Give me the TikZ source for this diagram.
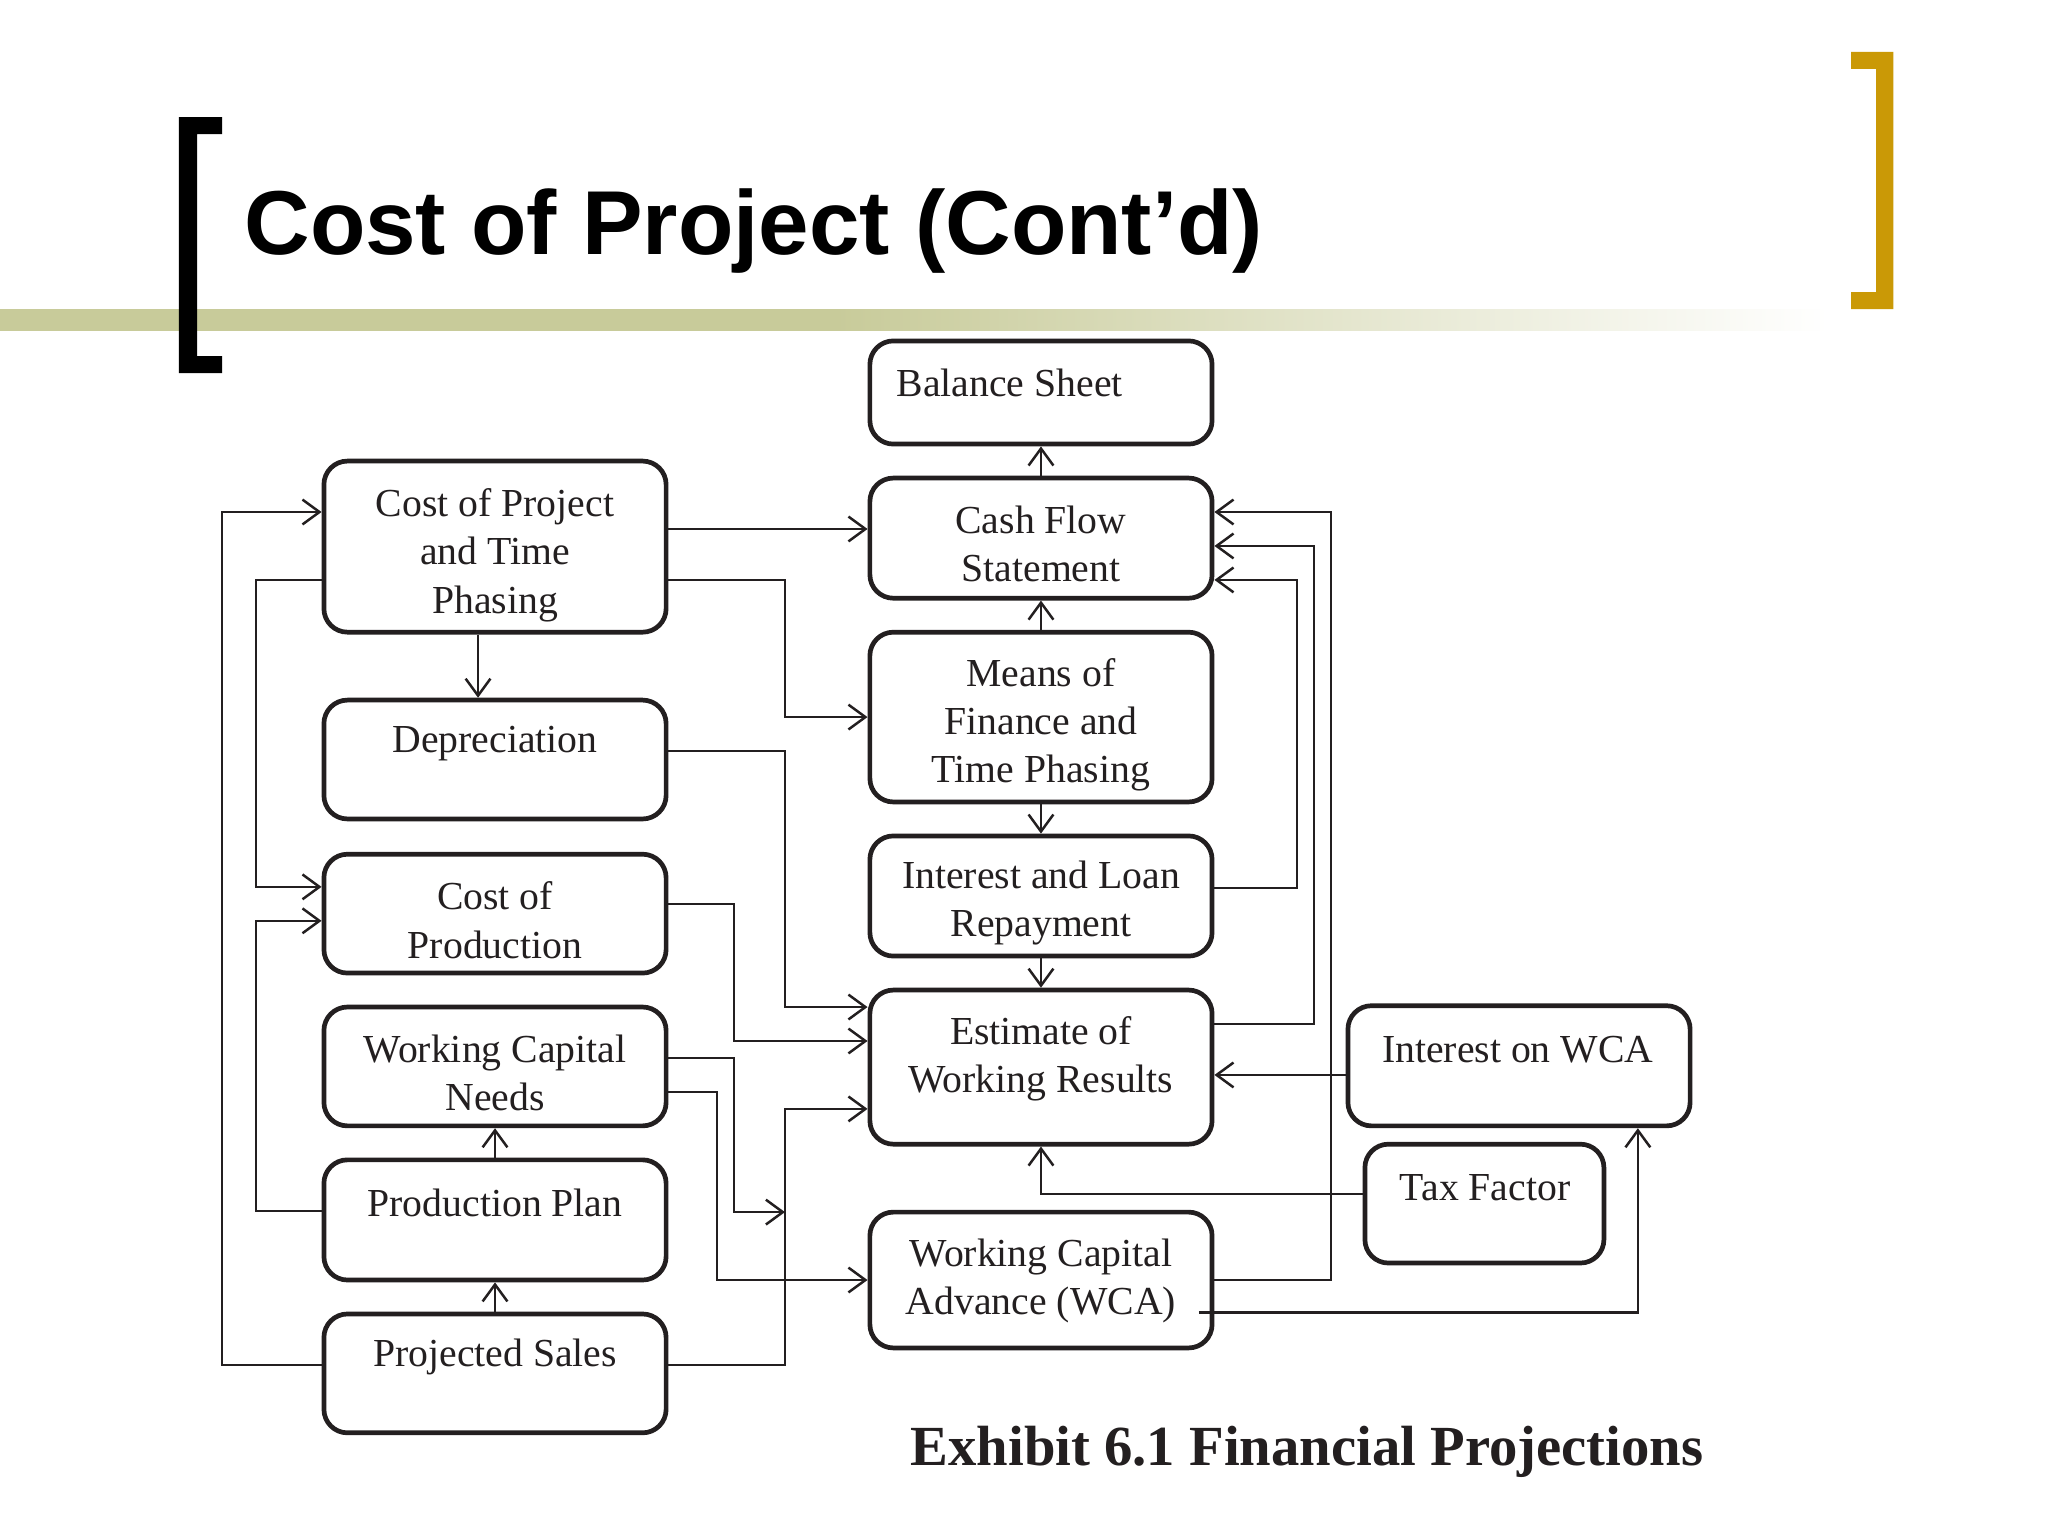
\documentclass[tikz,border=0pt]{standalone}
\usepackage{fontspec}
\setmainfont{Liberation Serif}
\newfontfamily\titlefont{Liberation Sans}
\usetikzlibrary{arrows.meta,calc}
\definecolor{ink}{RGB}{35,31,32}
\definecolor{olivebar}{RGB}{200,203,154}
\definecolor{goldbr}{RGB}{202,153,6}
\tikzset{
  box/.style={draw=ink, line width=3.6pt, rounded corners=18pt, minimum width=262pt, inner sep=0pt},
  txt/.style={text=ink, font=\fontsize{30.4}{37}\selectfont, align=center, inner sep=0pt},
  arr/.style={draw=ink, line width=1.9pt, -{Straight Barb[length=13pt,width=19pt]}},
}
\begin{document}
\begin{tikzpicture}[x=1pt,y=-1pt]
\useasboundingbox (0,0) rectangle (1568,1176);
\fill[white] (0,0) rectangle (1568,1176);
% header
\fill[olivebar] (0,236.6) rectangle (640,253.4);
\shade[left color=olivebar,right color=white] (640,236.6) rectangle (1400,253.4);
\fill[black] (137,89.6) -- (170,89.6) -- (170,102.6) -- (151,102.6) -- (151,272.6) -- (170,272.6) -- (170,285.6) -- (137,285.6) -- cycle;
\fill[goldbr] (1417.3,39.8) -- (1449.5,39.8) -- (1449.5,236.6) -- (1417.3,236.6) -- (1417.3,223.6) -- (1436.4,223.6) -- (1436.4,52.8) -- (1417.3,52.8) -- cycle;
\node[anchor=base west, inner sep=0pt, font=\titlefont\bfseries\fontsize{69.5}{80}\selectfont] (title) at (187,195) {Cost of Project (Cont’d)};
% boxes
\node[box, minimum height=131pt] (cop) at (379,418.5) {};
\node[box, minimum height=91pt] (dep) at (379,581.5) {};
\node[box, minimum height=91pt] (cpr) at (379,699.5) {};
\node[box, minimum height=91pt] (wcn) at (379,816.5) {};
\node[box, minimum height=92pt] (pp) at (379,934) {};
\node[box, minimum height=91pt] (ps) at (379,1051.5) {};
\node[box, minimum height=79pt] (bs) at (797,300.5) {};
\node[box, minimum height=92pt] (cfs) at (797,412) {};
\node[box, minimum height=130pt] (mof) at (797,549) {};
\node[box, minimum height=92pt] (ilr) at (797,686) {};
\node[box, minimum height=118pt] (ewr) at (797,817) {};
\node[box, minimum height=104pt] (wca) at (797,980) {};
\node[box, minimum height=92pt] (iw) at (1163,816) {};
\node[box, minimum width=183pt, minimum height=91pt] (tf) at (1136.5,921.5) {};
% texts
\node[txt] (cop-t) at (379,425) {Cost of Project\\and Time\\Phasing};
\node[txt] (dep-t) at (379,569.5) {Depreciation};
\node[txt] (cpr-t) at (379,704.5) {Cost of\\Production};
\node[txt] (wcn-t) at (379,821.5) {Working Capital\\Needs};
\node[txt] (pp-t) at (379,921) {Production Plan};
\node[txt] (ps-t) at (379,1039) {Projected Sales};
\node[txt] (bs-t) at (773,293) {Balance Sheet};
\node[txt] (cfs-t) at (797,416.5) {Cash Flow\\Statement};
\node[txt] (mof-t) at (797,555) {Means of\\Finance and\\Time Phasing};
\node[txt] (ilr-t) at (797,691.5) {Interest and Loan\\Repayment};
\node[txt] (ewr-t) at (797,810.5) {Estimate of\\Working Results};
\node[txt] (wca-t) at (797,980.5) {Working Capital\\Advance (WCA)};
\node[txt] (iw-t) at (1162,804) {Interest on WCA};
\node[txt] (tf-t) at (1137,909) {Tax Factor};
\node[anchor=base west, inner sep=0pt, text=ink, font=\bfseries\fontsize{43.4}{50}\selectfont] (cap) at (697,1122) {Exhibit 6.1 Financial Projections};
% connectors left
\coordinate (jn) at (601,928);
\draw[arr] (cop.east |- 0,405) -- (cfs.west |- 0,405);
\draw[arr] (cop.east |- 0,444) -- (601,444) |- (mof.west |- 0,549);
\draw[arr] (cop.south -| 366,0) -- (dep.north -| 366,0);
\draw[arr] (cop.west |- 0,444) -- (196,444) |- (cpr.west |- 0,679);
\draw[arr] (ps.west |- 0,1045) -- (170,1045) |- (cop.west |- 0,392);
\draw[arr] (pp.west |- 0,927) -- (196,927) |- (cpr.west |- 0,705);
\draw[arr] (dep.east |- 0,575) -- (601,575) |- (ewr.west |- 0,771);
\draw[arr] (cpr.east |- 0,692) -- (562,692) |- (ewr.west |- 0,797);
\draw[arr] (wcn.east |- 0,810) -- (562,810) |- (jn);
\draw[arr] (wcn.east |- 0,836) -- (549,836) |- (wca.west |- 0,980);
\draw[arr] (ps.east |- 0,1045) -- (601,1045) |- (ewr.west |- 0,849);
\draw[arr] (pp.north) -- (wcn.south);
\draw[arr] (ps.north) -- (pp.south);
% connectors middle
\draw[arr] (cfs.north) -- (bs.south);
\draw[arr] (mof.north) -- (cfs.south);
\draw[arr] (mof.south) -- (ilr.north);
\draw[arr] (ilr.south) -- (ewr.north);
\draw[arr] (ilr.east |- 0,680) -- (993,680) |- (cfs.east |- 0,444);
\draw[arr] (ewr.east |- 0,784) -- (1006,784) |- (cfs.east |- 0,418);
\draw[arr] (wca.east |- 0,980) -- (1019,980) |- (cfs.east |- 0,392);
\draw[arr] (iw.west |- 0,823) -- (ewr.east |- 0,823);
\draw[arr] (tf.west |- 0,914) -- (797,914) -- (ewr.south);
\draw[arr] ($(wca.east |- 0,1005)+(-12,0)$) -- (1254,1005) -- (iw.south -| 1254,0);
\end{tikzpicture}
\end{document}
